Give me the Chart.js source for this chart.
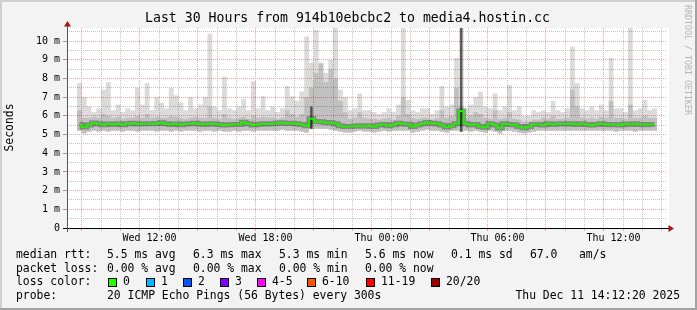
<!DOCTYPE html>
<html>
<head>
<meta charset="utf-8">
<script src="https://cdn.jsdelivr.net/npm/chart.js@4/dist/chart.umd.min.js"></script>
<style>
  html, body { margin: 0; padding: 0; background: #f3f3f3; }
  canvas { display: block; }
</style>
</head>
<body>
<canvas id="smoke" width="697" height="310"></canvas>
<script>
// 30 hours of 15 minute bins, hours counted from Wed 00:00
const startHour = 8.25;
const binHours = 0.25;

// median rtt (ms) per bin
const median = [
  5.54, 5.40, 5.51, 5.62, 5.58, 5.53, 5.56, 5.54, 5.58, 5.53,
  5.58, 5.61, 5.56, 5.58, 5.58, 5.58, 5.59, 5.63, 5.58, 5.54,
  5.56, 5.53, 5.56, 5.58, 5.61, 5.56, 5.54, 5.58, 5.56, 5.54,
  5.51, 5.53, 5.54, 5.54, 5.66, 5.58, 5.51, 5.54, 5.58, 5.56,
  5.58, 5.61, 5.63, 5.59, 5.61, 5.58, 5.54, 5.47, 5.84, 5.70,
  5.68, 5.65, 5.63, 5.58, 5.47, 5.43, 5.43, 5.45, 5.47, 5.45,
  5.47, 5.43, 5.51, 5.54, 5.47, 5.53, 5.61, 5.56, 5.55, 5.43,
  5.51, 5.58, 5.65, 5.61, 5.58, 5.51, 5.40, 5.47, 5.58, 6.26,
  5.58, 5.51, 5.54, 5.43, 5.39, 5.58, 5.51, 5.35, 5.58, 5.54,
  5.53, 5.43, 5.36, 5.43, 5.54, 5.54, 5.51, 5.58, 5.54, 5.56,
  5.58, 5.56, 5.58, 5.54, 5.58, 5.54, 5.51, 5.54, 5.58, 5.54,
  5.53, 5.54, 5.51, 5.56, 5.54, 5.58, 5.54, 5.53, 5.54, 5.54
];

// smoke: lowest and highest ping per bin (ms)
const smokeLo = [
  5.20, 5.05, 5.15, 5.20, 5.15, 5.20, 5.15, 5.20, 5.20, 5.15,
  5.20, 5.20, 5.15, 5.20, 5.20, 5.20, 5.15, 5.20, 5.20, 5.15,
  5.20, 5.15, 5.20, 5.20, 5.20, 5.15, 5.20, 5.20, 5.15, 5.20,
  5.15, 5.15, 5.20, 5.15, 5.20, 5.20, 5.15, 5.20, 5.20, 5.20,
  5.20, 5.20, 5.25, 5.20, 5.20, 5.20, 5.15, 5.10, 5.30, 5.30,
  5.30, 5.30, 5.25, 5.20, 5.15, 5.10, 5.10, 5.15, 5.20, 5.15,
  5.15, 5.10, 5.15, 5.20, 5.15, 5.20, 5.20, 5.20, 5.20, 5.10,
  5.15, 5.20, 5.25, 5.20, 5.20, 5.15, 5.10, 5.20, 5.20, 5.15,
  5.20, 5.15, 5.20, 5.15, 5.10, 5.20, 5.15, 5.05, 5.20, 5.20,
  5.15, 5.10, 5.05, 5.10, 5.15, 5.20, 5.20, 5.20, 5.20, 5.20,
  5.20, 5.20, 5.20, 5.20, 5.20, 5.20, 5.20, 5.20, 5.20, 5.20,
  5.20, 5.15, 5.20, 5.20, 5.20, 5.15, 5.20, 5.20, 5.20, 5.20
];
const smokeHi = [
  7.75, 7.00, 6.50, 6.20, 6.40, 7.40, 7.80, 6.30, 6.60, 6.20,
  6.40, 6.30, 7.50, 6.60, 7.75, 6.30, 7.00, 6.70, 6.40, 7.50,
  7.10, 6.70, 6.30, 7.00, 6.40, 6.60, 7.00, 10.4, 6.50, 6.30,
  8.10, 6.40, 6.30, 6.50, 6.90, 6.30, 7.85, 6.40, 7.05, 6.30,
  6.50, 6.20, 6.40, 7.60, 7.05, 6.80, 7.30, 10.25, 8.85, 10.6,
  8.85, 8.30, 9.00, 10.7, 7.40, 7.00, 6.30, 6.40, 7.20, 6.30,
  6.30, 6.20, 6.10, 6.20, 6.40, 6.20, 6.60, 10.7, 6.85, 6.30,
  6.20, 6.40, 6.40, 6.10, 6.30, 7.60, 6.50, 6.60, 9.10, 10.7,
  6.40, 6.60, 7.00, 7.30, 6.50, 6.40, 7.20, 6.30, 6.50, 7.65,
  6.30, 6.50, 6.00, 6.00, 6.30, 6.20, 6.30, 6.20, 6.80, 6.30,
  6.20, 6.40, 9.70, 7.75, 6.40, 6.30, 6.50, 6.30, 6.60, 6.30,
  9.10, 6.40, 6.40, 6.20, 10.7, 6.30, 6.40, 6.85, 6.30, 6.40
];
// denser part of the smoke (ms)
const midHi = [
  6.30, 5.90, 5.90, 5.95, 5.90, 6.10, 6.00, 5.90, 5.95, 5.85,
  5.90, 5.90, 6.00, 5.90, 6.10, 5.90, 5.95, 5.90, 5.90, 6.00,
  5.95, 5.90, 5.85, 5.90, 5.95, 5.90, 5.90, 6.50, 5.90, 5.85,
  6.10, 5.90, 5.85, 5.90, 5.95, 5.85, 6.00, 5.90, 5.95, 5.90,
  5.90, 5.85, 5.90, 6.30, 6.10, 5.95, 6.10, 7.00, 7.50, 8.30,
  8.80, 7.80, 8.50, 8.00, 6.80, 6.20, 5.85, 5.90, 6.20, 5.90,
  5.85, 5.85, 5.80, 5.85, 5.90, 5.80, 6.00, 7.00, 6.10, 5.90,
  5.85, 5.90, 5.90, 5.80, 5.90, 6.30, 5.90, 6.00, 7.50, 6.50,
  5.90, 6.00, 6.20, 6.10, 5.90, 5.85, 6.30, 5.85, 5.90, 6.20,
  5.85, 5.80, 5.70, 5.70, 5.80, 5.80, 5.90, 5.85, 6.00, 5.85,
  5.85, 5.90, 7.40, 6.50, 5.90, 5.85, 5.90, 5.85, 5.95, 5.90,
  6.80, 5.90, 5.90, 5.85, 6.60, 5.90, 5.90, 6.00, 5.90, 5.90
];
// bins with a dark (dense) column
const darkBins = [48, 79];
const darkHi = [6.50, 10.7];

// axis labels
const labelHours = [12, 18, 24, 30, 36];
const labelTexts = ['Wed 12:00', 'Wed 18:00', 'Thu 00:00', 'Thu 06:00', 'Thu 12:00'];
const yLabelValues = [0, 1, 2, 3, 4, 5, 6, 7, 8, 9, 10];

// legend texts
const rttStats = ['5.5 ms avg', '6.3 ms max', '5.3 ms min', '5.6 ms now', '0.1 ms sd'];
const lossStats = ['0.00 % avg', '0.00 % max', '0.00 % min', '0.00 % now'];
const lossLabels = ['0', '1', '2', '3', '4-5', '6-10', '11-19', '20/20'];
const lossColors = ['#26ff00', '#00b8ff', '#0059ff', '#7e00ff', '#ff00ff', '#ff5500', '#ff0000', '#a10000'];

const binX = median.map((v, i) => startHour + binHours * i + binHours / 2);

const MONO = '"DejaVu Sans Mono", monospace';
Chart.defaults.font.family = MONO;
Chart.defaults.color = '#000';

const RED_GRID = '#eba5a5';
const GRAY_GRID = '#c4c4c4';

const decor = {
  id: 'decor',
  beforeDraw(chart) {
    const { ctx, chartArea: a, width, height } = chart;
    ctx.save();
    ctx.fillStyle = '#f3f3f3';
    ctx.fillRect(0, 0, width, height);
    ctx.fillStyle = '#cfcfcf';
    ctx.fillRect(0, 0, width, 2);
    ctx.fillRect(0, 0, 2, height);
    ctx.fillStyle = '#a3a3a3';
    ctx.fillRect(0, height - 2, width, 2);
    ctx.fillRect(width - 2, 0, 2, height);
    ctx.fillStyle = '#ffffff';
    ctx.fillRect(a.left, a.top, a.right - a.left + 2, a.bottom - a.top);
    ctx.restore();
  },
  afterDatasetsDraw(chart) {
    const { ctx, chartArea: a } = chart;
    ctx.save();
    // axes
    ctx.lineWidth = 1;
    ctx.strokeStyle = '#000';
    ctx.beginPath();
    ctx.moveTo(a.left - 4, a.bottom + 0.5);
    ctx.lineTo(a.right + 2, a.bottom + 0.5);
    ctx.stroke();
    ctx.strokeStyle = '#555';
    ctx.beginPath();
    ctx.moveTo(a.left + 0.5, a.top - 3);
    ctx.lineTo(a.left + 0.5, a.bottom + 4);
    ctx.stroke();
    // arrows
    ctx.fillStyle = '#a01818';
    ctx.beginPath();
    ctx.moveTo(a.left + 0.5, a.top - 7);
    ctx.lineTo(a.left - 3, a.top - 1.5);
    ctx.lineTo(a.left + 4, a.top - 1.5);
    ctx.closePath();
    ctx.fill();
    ctx.beginPath();
    ctx.moveTo(a.right + 7, a.bottom + 0.5);
    ctx.lineTo(a.right + 1.5, a.bottom - 3);
    ctx.lineTo(a.right + 1.5, a.bottom + 4);
    ctx.closePath();
    ctx.fill();
    ctx.restore();
  },
  afterDraw(chart) {
    const { ctx, width } = chart;
    ctx.save();
    ctx.fillStyle = '#000';
    ctx.textBaseline = 'middle';

    // title
    ctx.font = '13.2px ' + MONO;
    ctx.textAlign = 'center';
    ctx.fillText('Last 30 Hours from 914b10ebcbc2 to media4.hostin.cc', 347.5, 19);

    // y axis title
    ctx.save();
    ctx.font = '11.4px ' + MONO;
    ctx.translate(10.5, 127.5);
    ctx.rotate(-Math.PI / 2);
    ctx.fillText('Seconds', 0, 0);
    ctx.restore();

    // watermark
    ctx.save();
    ctx.font = '8.3px ' + MONO;
    ctx.fillStyle = '#b4b4b4';
    ctx.translate(687, 60);
    ctx.rotate(Math.PI / 2);
    ctx.fillText('RRDTOOL / TOBI OETIKER', 0, 0);
    ctx.restore();

    // legend
    ctx.font = '11.4px ' + MONO;
    ctx.textAlign = 'left';
    const cols = [107, 193, 279, 365, 451];
    const rows = [255, 269, 282.5, 296.5];

    ctx.fillText('median rtt:', 16, rows[0]);
    rttStats.forEach((s, k) => ctx.fillText(s, cols[k], rows[0]));
    ctx.fillText('67.0', 530, rows[0]);
    ctx.fillText('am/s', 579, rows[0]);

    ctx.fillText('packet loss:', 16, rows[1]);
    lossStats.forEach((s, k) => ctx.fillText(s, cols[k], rows[1]));

    ctx.fillText('loss color:', 16, rows[2]);
    const boxX = [108, 146, 183, 220, 257, 307, 366, 431];
    lossLabels.forEach((s, k) => {
      ctx.fillStyle = lossColors[k];
      ctx.fillRect(boxX[k], 278, 9, 9);
      ctx.strokeStyle = '#000';
      ctx.lineWidth = 1;
      ctx.strokeRect(boxX[k] + 0.5, 278.5, 8, 8);
      ctx.fillStyle = '#000';
      ctx.fillText(s, boxX[k] + 15, rows[2]);
    });

    ctx.fillText('probe:', 16, rows[3]);
    ctx.fillText('20 ICMP Echo Pings (56 Bytes) every 300s', 107, rows[3]);
    ctx.textAlign = 'right';
    ctx.fillText('Thu Dec 11 14:12:20 2025', width - 17, rows[3]);
    ctx.restore();
  }
};

const hourTicks = [];
for (let h = 9; h <= 38; h++) hourTicks.push({ value: h });
const halfTicks = [];
for (let v = 0; v <= 10.5; v += 0.5) halfTicks.push({ value: v });

new Chart(document.getElementById('smoke'), {
  type: 'bar',
  data: {
    datasets: [
      {
        type: 'line',
        label: 'median',
        data: binX.map((x, i) => ({ x: x, y: median[i] })),
        borderColor: '#22ee00',
        borderWidth: 2,
        pointRadius: 0,
        stepped: 'middle',
        order: 0
      },
      {
        type: 'line',
        label: 'median shadow',
        data: binX.map((x, i) => ({ x: x, y: median[i] })),
        borderColor: 'rgba(0,0,0,0.3)',
        borderWidth: 5,
        pointRadius: 0,
        stepped: 'middle',
        order: 1
      },
      {
        label: 'dense',
        data: darkBins.map((b, k) => ({ x: binX[b], y: [smokeLo[b], darkHi[k]] })),
        backgroundColor: 'rgba(0,0,0,0.6)',
        grouped: false,
        inflateAmount: 0,
        barPercentage: 0.5,
        categoryPercentage: 1,
        order: 2
      },
      {
        label: 'mid',
        data: binX.map((x, i) => ({ x: x, y: [smokeLo[i], midHi[i]] })),
        backgroundColor: 'rgba(0,0,0,0.12)',
        grouped: false,
        inflateAmount: 0,
        barPercentage: 1,
        categoryPercentage: 1,
        order: 3
      },
      {
        label: 'smoke',
        data: binX.map((x, i) => ({ x: x, y: [smokeLo[i], smokeHi[i]] })),
        backgroundColor: 'rgba(0,0,0,0.14)',
        grouped: false,
        inflateAmount: 0,
        barPercentage: 1,
        categoryPercentage: 1,
        order: 4
      }
    ]
  },
  options: {
    responsive: false,
    animation: false,
    devicePixelRatio: 1,
    layout: { padding: { top: 28, right: 30, left: 0, bottom: 0 } },
    plugins: { legend: { display: false }, tooltip: { enabled: false }, title: { display: false } },
    scales: {
      x: {
        type: 'linear',
        min: startHour,
        max: startHour + 30,
        afterBuildTicks: s => { s.ticks = hourTicks.slice(); },
        afterFit: s => { s.height = 82; },
        border: { display: false, dash: [1, 1] },
        grid: {
          color: c => (c.tick && c.tick.value % 3 === 0 ? RED_GRID : GRAY_GRID),
          tickColor: c => (c.tick && c.tick.value % 3 === 0 ? RED_GRID : GRAY_GRID),
          tickLength: 3,
          drawTicks: true
        },
        ticks: {
          autoSkip: false,
          maxRotation: 0,
          padding: 1,
          font: { size: 10 },
          color: '#000',
          callback: v => {
            const k = labelHours.indexOf(v);
            return k >= 0 ? labelTexts[k] : '';
          }
        }
      },
      y: {
        type: 'linear',
        min: 0,
        max: 10.7,
        afterBuildTicks: s => { s.ticks = halfTicks.slice(); },
        afterFit: s => { s.width = 67; },
        border: { display: false, dash: [1, 1] },
        grid: {
          color: c => (c.tick && c.tick.value % 1 === 0 ? RED_GRID : GRAY_GRID),
          tickColor: c => (c.tick && c.tick.value % 1 === 0 ? '#999' : 'rgba(0,0,0,0)'),
          tickLength: 4
        },
        ticks: {
          autoSkip: false,
          padding: 3,
          font: { size: 10 },
          color: '#000',
          callback: v => (yLabelValues.indexOf(v) >= 0 ? (v === 0 ? '0' : v + ' m') : '')
        }
      }
    }
  },
  plugins: [decor]
});
</script>
</body>
</html>
